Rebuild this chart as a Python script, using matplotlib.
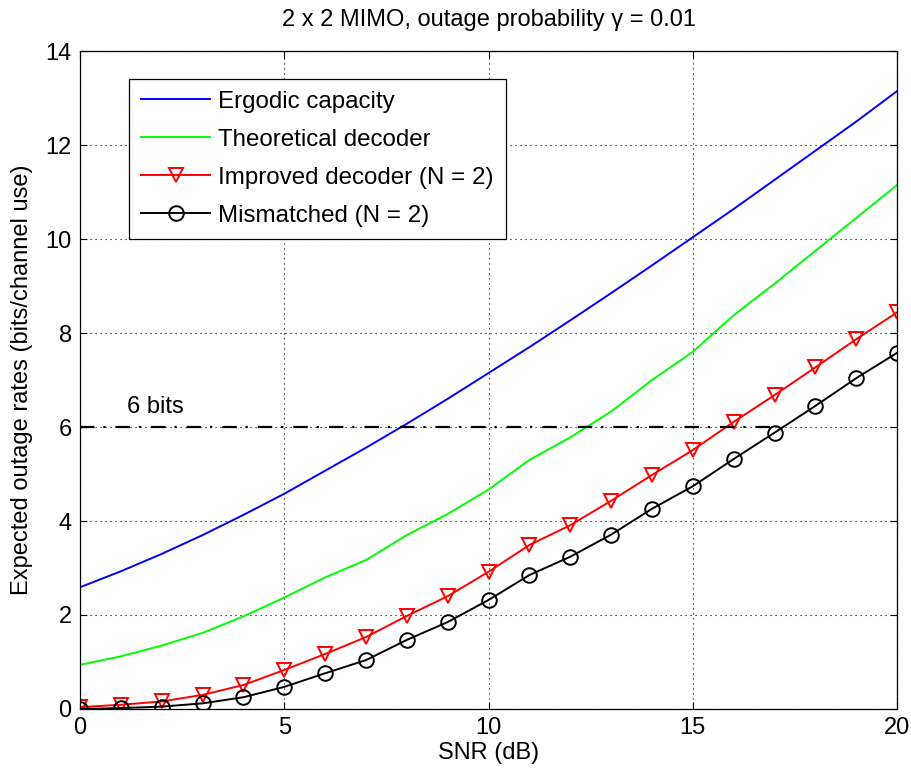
import numpy as np
import matplotlib
matplotlib.use("Agg")
import matplotlib.pyplot as plt

plt.rcParams["font.family"] = ["Liberation Sans", "DejaVu Sans"]

snr = np.arange(0, 21)
ergodic = [2.59, 2.93, 3.30, 3.70, 4.13, 4.58, 5.07, 5.56, 6.07, 6.60, 7.15,
           7.70, 8.27, 8.85, 9.44, 10.04, 10.64, 11.26, 11.88, 12.50, 13.15]
theoretical = [0.94, 1.12, 1.35, 1.62, 1.97, 2.37, 2.80, 3.17, 3.70, 4.15, 4.67,
               5.30, 5.78, 6.33, 7.00, 7.60, 8.38, 9.05, 9.75, 10.45, 11.15]
improved = [0.04, 0.09, 0.16, 0.30, 0.51, 0.83, 1.17, 1.53, 1.98, 2.40, 2.92,
            3.49, 3.91, 4.43, 4.98, 5.51, 6.11, 6.68, 7.27, 7.87, 8.44]
mismatched = [0.00, 0.02, 0.05, 0.12, 0.25, 0.47, 0.76, 1.04, 1.47, 1.85, 2.32,
              2.85, 3.24, 3.71, 4.26, 4.74, 5.32, 5.88, 6.45, 7.04, 7.58]
target_bits = 6
target_span = [0, 17]

FS = 17

fig = plt.figure(figsize=(9.12, 7.74), dpi=100)
ax = fig.add_axes([0.0877, 0.084, 0.896, 0.850])

ax.plot(snr, ergodic, color="#0000ff", lw=1.4, label="Ergodic capacity")
ax.plot(snr, theoretical, color="#00ff00", lw=1.4, label="Theoretical decoder")
ax.plot(snr, improved, color="#ff0000", lw=1.4, marker="v", ms=10.5, mfc="none",
        mew=1.4, label="Improved decoder (N = 2)")
ax.plot(snr, mismatched, color="black", lw=1.4, marker="o", ms=10.5, mfc="none",
        mew=1.4, label="Mismatched (N = 2)")
ax.plot(target_span, [target_bits, target_bits], color="black", lw=1.6,
        ls=(0, (6.5, 4, 1, 4.5)))
ax.text(1.15, 6.2, "6 bits", fontsize=FS, ha="left", va="bottom")

ax.set_xlim(0, 20)
ax.set_ylim(0, 14)
ax.set_xticks(range(0, 21, 5))
ax.set_yticks(range(0, 15, 2))
ax.grid(True, color="black", ls=(0, (1, 3.5)), lw=0.8)
ax.tick_params(direction="in", top=True, right=True, labelsize=FS, length=5,
               pad=6)
for s in ax.spines.values():
    s.set_linewidth(0.9)

ax.set_xlabel("SNR (dB)", fontsize=FS, labelpad=2)
ax.set_ylabel("Expected outage rates (bits/channel use)", fontsize=FS, labelpad=9)
ax.set_title("2 x 2 MIMO, outage probability \u03b3 = 0.01", fontsize=FS, pad=18)

leg = ax.legend(loc="upper left", bbox_to_anchor=(0.06, 0.958), borderaxespad=0,
                fontsize=17.4, handlelength=2.85, handletextpad=0.35,
                labelspacing=0.66, fancybox=False, framealpha=1,
                edgecolor="black", borderpad=0.5)
leg.get_frame().set_linewidth(0.9)

fig.savefig("out.png", dpi=100)
